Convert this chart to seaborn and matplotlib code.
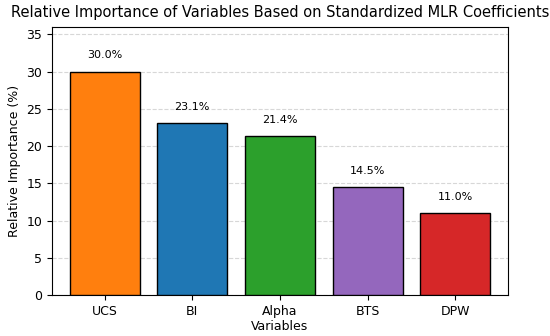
import matplotlib
matplotlib.use("Agg")
import matplotlib.pyplot as plt
import seaborn as sns
import pandas as pd

variables = ["UCS", "BI", "Alpha", "BTS", "DPW"]
importance = [30.0, 23.1, 21.4, 14.5, 11.0]
colors = ["#ff7f0e", "#1f77b4", "#2ca02c", "#9467bd", "#d62728"]

df = pd.DataFrame({"Variables": variables, "Importance": importance})

fig, ax = plt.subplots(figsize=(5.5, 3.36), dpi=100)
fig.subplots_adjust(left=52/550, right=508/550, top=1-27/336, bottom=1-295/336)
sns.barplot(data=df, x="Variables", y="Importance", hue="Variables",
            palette=colors, edgecolor="black", linewidth=1, saturation=1,
            legend=False, ax=ax, zorder=3)

# percentage labels above the bars
for i, v in enumerate(importance):
    ax.text(i, v + 1.5, f"{v:.1f}%", ha="center", va="bottom", fontsize=8)

ax.set_xlim(-0.6, 4.6)
ax.set_ylim(0, 36)
ax.yaxis.grid(True, linestyle="--", alpha=0.5, zorder=0)
ax.set_axisbelow(True)
ax.set_xlabel("Variables", fontsize=9, labelpad=2)
ax.set_ylabel("Relative Importance (%)", fontsize=9)
ax.set_title("Relative Importance of Variables Based on Standardized MLR Coefficients",
             fontsize=10.5, pad=7)
ax.tick_params(labelsize=9)

plt.savefig("out.png", dpi=100)
